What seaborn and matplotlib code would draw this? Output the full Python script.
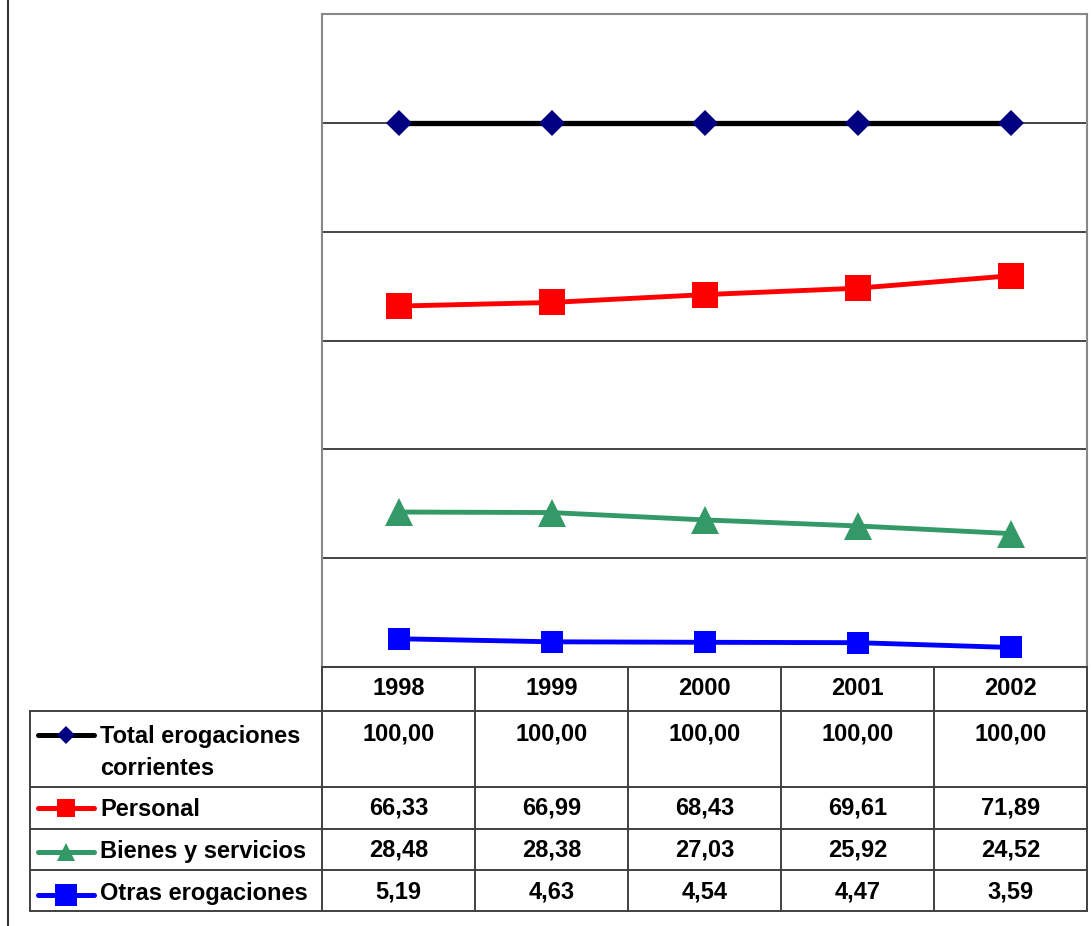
import numpy as np
import pandas as pd
import matplotlib
matplotlib.use("Agg")
import matplotlib.pyplot as plt
from matplotlib.lines import Line2D
import seaborn as sns

# ---- data -------------------------------------------------------------
years = ["1998", "1999", "2000", "2001", "2002"]
series_names = ["Total erogaciones\ncorrientes", "Personal",
                "Bienes y servicios", "Otras erogaciones"]
total = [100.00, 100.00, 100.00, 100.00, 100.00]
personal = [66.33, 66.99, 68.43, 69.61, 71.89]
bienes = [28.48, 28.38, 27.03, 25.92, 24.52]
otras = [5.19, 4.63, 4.54, 4.47, 3.59]
values = [total, personal, bienes, otras]

# ---- styles -----------------------------------------------------------
styles = [
    dict(color="black", marker="D", mfc="#000080", mec="#000080", ms=13.6, lw=3.8, lms=8.8),
    dict(color="#FF0000", marker="s", mfc="#FF0000", mec="#FF0000", ms=19.0, lw=3.5, lms=12.4),
    dict(color="#339966", marker="^", mfc="#339966", mec="#339966", ms=19.8, lw=3.5, lms=13.2),
    dict(color="#0000FF", marker="s", mfc="#0000FF", mec="#0000FF", ms=15.2, lw=3.5, lms=15.2),
]

sns.set_theme(style="white")
plt.rcParams["font.family"] = ["Liberation Sans", "DejaVu Sans"]
plt.rcParams["text.color"] = "black"

W, H = 1091, 926
fig = plt.figure(figsize=(W / 100, H / 100), dpi=100)
fig.patch.set_facecolor("white")

# plot area in pixel coordinates
px_left, px_right, px_top, px_bottom = 322, 1087, 14, 667
ax = fig.add_axes([px_left / W, (H - px_bottom) / H,
                   (px_right - px_left) / W, (px_bottom - px_top) / H])

x = np.arange(len(years))
for vals, st in zip(values, styles):
    df = pd.DataFrame({"x": x, "y": vals})
    sns.lineplot(data=df, x="x", y="y", ax=ax, color=st["color"],
                 marker=st["marker"], markersize=st["ms"],
                 markerfacecolor=st["mfc"], markeredgecolor=st["mec"],
                 markeredgewidth=0, linewidth=st["lw"], zorder=3)

ax.set_xlim(-0.5, len(years) - 0.5)
ax.set_ylim(0, 120)
ax.set_yticks([20, 40, 60, 80, 100])
ax.set_xticks([])
ax.yaxis.grid(True, color="#444444", linewidth=1.4)
ax.tick_params(left=False, labelleft=False, bottom=False, labelbottom=False)
ax.set_xlabel("")
ax.set_ylabel("")
for sp in ax.spines.values():
    sp.set_visible(True)
    sp.set_color("#888888")
    sp.set_linewidth(1.5)

# ---- data table drawn below the plot ------------------------------------
tab = fig.add_axes([0, 0, 1, 1], facecolor="none")
tab.set_xlim(0, W)
tab.set_ylim(H, 0)
tab.axis("off")

line_col = "#404040"
col_edges = np.linspace(px_left, px_right, len(years) + 1)
row_edges = [711, 787, 829, 870, 911]
tab_left = 30

# outer chart border on the left
tab.add_line(Line2D([7.5, 7.5], [0, 926], color="#333333", lw=1.5))

# horizontal rules
tab.add_line(Line2D([px_left, px_right], [px_bottom, px_bottom], color=line_col, lw=1.4))
for yv in row_edges:
    tab.add_line(Line2D([tab_left, px_right], [yv, yv], color=line_col, lw=1.4))
# vertical rules
tab.add_line(Line2D([tab_left, tab_left], [row_edges[0], row_edges[-1]], color=line_col, lw=1.4))
for xv in col_edges:
    tab.add_line(Line2D([xv, xv], [px_bottom, row_edges[-1]], color=line_col, lw=1.4))

fs = 17
col_centers = (col_edges[:-1] + col_edges[1:]) / 2
for cx, yr in zip(col_centers, years):
    tab.text(cx, 695, yr, ha="center", va="baseline", fontsize=fs, fontweight="bold")

value_baselines = [740, 815, 857, 898]
label_baselines = [[743, 775], [816], [858], [900]]
key_centers = [735, 808, 852, 895]

for vals, st, name, vb, lbs, kc in zip(values, styles, series_names,
                                       value_baselines, label_baselines, key_centers):
    for cx, v in zip(col_centers, vals):
        tab.text(cx, vb, f"{v:.2f}".replace(".", ","), ha="center", va="baseline",
                 fontsize=fs, fontweight="bold")
    for line_txt, lb in zip(name.split("\n"), lbs):
        tab.text(100, lb, line_txt, ha="left", va="baseline", fontsize=fs, fontweight="bold")
    tab.add_line(Line2D([38, 94], [kc, kc], color=st["color"], lw=3.6))
    tab.add_line(Line2D([66], [kc], marker=st["marker"], markersize=st["lms"],
                        markerfacecolor=st["mfc"], markeredgecolor=st["mec"],
                        markeredgewidth=0, linestyle="none"))

fig.savefig("out.png", dpi=100, facecolor="white")
